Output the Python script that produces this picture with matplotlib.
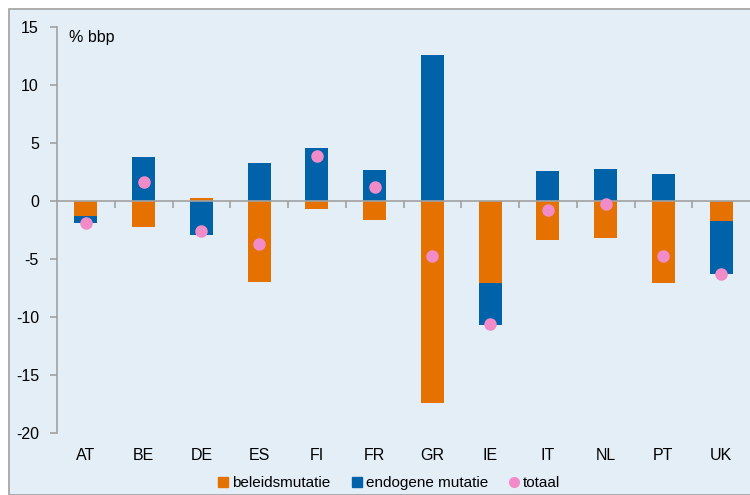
import numpy as np
import matplotlib.pyplot as plt
from matplotlib.patches import Rectangle
from matplotlib.lines import Line2D

plt.rcParams['font.family'] = ['Liberation Sans', 'DejaVu Sans']
plt.rcParams['axes.unicode_minus'] = False

# Data
landen = ["AT", "BE", "DE", "ES", "FI", "FR", "GR", "IE", "IT", "NL", "PT", "UK"]
beleid = [-1.3, -2.2, 0.3, -7.0, -0.7, -1.6, -17.4, -7.1, -3.4, -3.2, -7.1, -1.7]
endogeen = [-0.6, 3.8, -2.9, 3.3, 4.6, 2.7, 12.6, -3.6, 2.6, 2.8, 2.3, -4.6]
totaal = [-1.9, 1.6, -2.6, -3.7, 3.9, 1.2, -4.7, -10.6, -0.8, -0.3, -4.7, -6.3]

oranje = '#E57200'
blauw = '#0063AA'
roze = '#F28CC8'
achtergrond = '#E3EEF7'
grijs = '#A0A0A0'

fig = plt.figure(figsize=(7.5, 4.95), dpi=100)
fig.patch.set_facecolor('white')
# light blue panel with grey frame
fig.patches.append(Rectangle((9 / 750, 0), 1.0, 1 - 9 / 495, transform=fig.transFigure,
                             facecolor=achtergrond, edgecolor=grijs, linewidth=1.2, zorder=-5))

ax = fig.add_axes([57 / 750, 1 - 433 / 495, 1 - 57 / 750, (433 - 27) / 495])
ax.set_facecolor(achtergrond)
ax.set_zorder(1)

x = np.arange(len(landen))
beleid = np.array(beleid)
endogeen = np.array(endogeen)

# stack: positive parts upward, negative parts downward
pos_base = np.zeros(len(x))
neg_base = np.zeros(len(x))
for vals, kleur in [(beleid, oranje), (endogeen, blauw)]:
    base = np.where(vals >= 0, pos_base, neg_base)
    ax.bar(x, vals, bottom=base, width=0.4, color=kleur, zorder=2)
    pos_base = pos_base + np.where(vals >= 0, vals, 0)
    neg_base = neg_base + np.where(vals < 0, vals, 0)

ax.plot(x, totaal, 'o', color=roze, markersize=8, zorder=4)

# zero line with category separators
ax.axhline(0, color=grijs, linewidth=1.2, zorder=3)
ax.plot(x[:-1] + 0.5, np.zeros(len(x) - 1), linestyle='none', marker=3,
        markersize=5, color=grijs, markeredgewidth=1.2, zorder=3)

ax.set_xlim(-0.5, len(x) - 0.5)
ax.set_ylim(-20, 15)
ax.set_yticks(np.arange(-20, 16, 5))
ax.set_xticks(x)
ax.set_xticklabels(landen)
ax.tick_params(axis='x', length=0, pad=11, labelsize=11.5)
ax.tick_params(axis='y', length=5, color=grijs, width=1.2, labelsize=11.5, pad=8)
for s in ['top', 'right', 'bottom']:
    ax.spines[s].set_visible(False)
ax.spines['left'].set_color(grijs)
ax.spines['left'].set_linewidth(1.2)

ax.text(0.018, 0.975, '% bbp', transform=ax.transAxes, fontsize=11.5, va='center')

handles = [
    Line2D([], [], marker='s', linestyle='none', color=oranje, markersize=7),
    Line2D([], [], marker='s', linestyle='none', color=blauw, markersize=7),
    Line2D([], [], marker='o', linestyle='none', color=roze, markersize=7),
]
fig.legend(handles, ['beleidsmutatie', 'endogene mutatie', 'totaal'],
           loc='center', bbox_to_anchor=(388 / 750, 1 - 483 / 495), ncol=3,
           frameon=False, fontsize=11, handletextpad=0.1, columnspacing=1.2,
           handlelength=1.0)

fig.savefig('out.png', dpi=100, facecolor='white')
